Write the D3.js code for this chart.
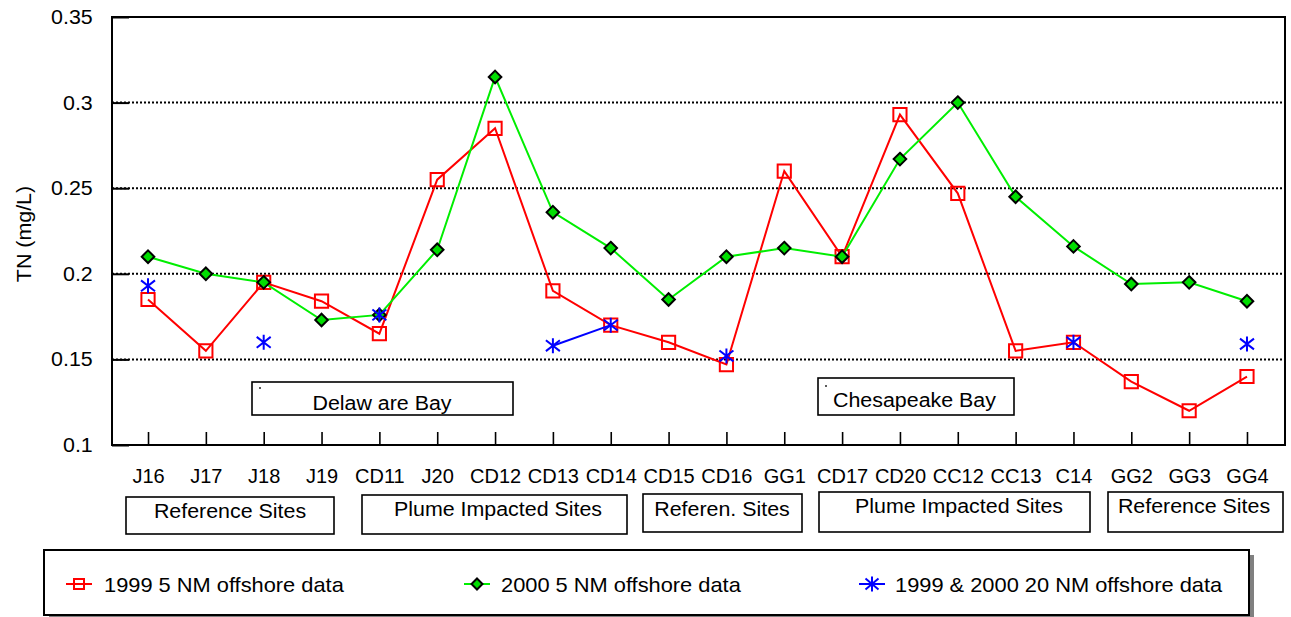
<!DOCTYPE html>
<html>
<head>
<meta charset="utf-8">
<script src="https://cdn.jsdelivr.net/npm/d3@7/dist/d3.min.js"></script>
<style>
  html, body { margin: 0; padding: 0; background: #fff; }
  svg { display: block; font-family: "Liberation Sans", Arial, sans-serif; }
</style>
</head>
<body>
<svg id="chart" width="1291" height="617"></svg>
<script>
// Sampling stations along the transect
const stations = ["J16","J17","J18","J19","CD11","J20","CD12","CD13","CD14","CD15",
                  "CD16","GG1","CD17","CD20","CC12","CC13","C14","GG2","GG3","GG4"];

// Total nitrogen (mg/L)
const tn1999near = [0.185,0.155,0.195,0.184,0.165,0.255,0.285,0.190,0.170,0.160,
                    0.147,0.260,0.210,0.293,0.247,0.155,0.160,0.137,0.120,0.140];
const tn2000near = [0.210,0.200,0.195,0.173,0.176,0.214,0.315,0.236,0.215,0.185,
                    0.210,0.215,0.210,0.267,0.300,0.245,0.216,0.194,0.195,0.184];
const tnFar      = [0.193,null,0.160,null,0.176,null,null,0.158,0.170,null,
                    0.152,null,null,null,null,null,0.160,null,null,0.159];

const yTicks = [0.1, 0.15, 0.2, 0.25, 0.3, 0.35];
const yGrid  = [0.15, 0.2, 0.25, 0.3];

const seriesNames = ["1999 5 NM offshore data", "2000 5 NM offshore data", "1999 & 2000 20 NM offshore data"];
const groupNames  = ["Reference Sites", "Plume Impacted Sites", "Referen. Sites", "Plume Impacted Sites", "Reference Sites"];
const bayNames    = ["Delaw are Bay", "Chesapeake Bay"];

// ---- layout ----
const plot = { x0: 112, x1: 1285, y0: 17, y1: 445 };
const groupBoxes = [
  { x: 126, y: 497, w: 208, h: 37, tx: 230, ty: 518 },
  { x: 362, y: 495, w: 265, h: 39, tx: 498, ty: 516 },
  { x: 643, y: 494, w: 159, h: 38, tx: 722, ty: 516 },
  { x: 819, y: 492, w: 271, h: 40, tx: 959, ty: 513 },
  { x: 1108, y: 492, w: 175, h: 40, tx: 1194, ty: 513 }
];
const bayBoxes = [
  { x: 252, y: 382, w: 261, h: 33, tx: 382, ty: 410, anchor: "middle", dx: 260, dy: 388 },
  { x: 818, y: 378, w: 196, h: 37, tx: 833, ty: 407, anchor: "start", dx: 826, dy: 386 }
];
const legendBox = { x: 44, y: 550, w: 1205, h: 65 };
const legendItems = [
  { cx: 79, tx: 104 },
  { cx: 477, tx: 501 },
  { cx: 872, tx: 895 }
];
const SX = 1.07; // horizontal text stretch

const RED = "#ff0000", GREEN = "#00ee00", GFILL = "#00dd00", BLUE = "#0000ff";

const svg = d3.select("#chart");

const x = d3.scalePoint().domain(stations).range([111, 1284]).padding(0.64);
const y = d3.scaleLinear().domain([0.1, 0.35]).range([plot.y1, plot.y0]);

// dotted gridlines
svg.append("g").selectAll("line").data(yGrid).join("line")
  .attr("x1", plot.x0).attr("x2", plot.x1)
  .attr("y1", d => y(d)).attr("y2", d => y(d))
  .attr("stroke", "#000").attr("stroke-width", 2)
  .attr("stroke-dasharray", "2,2");

// y axis
const yAxis = svg.append("g").attr("transform", `translate(${plot.x0},0)`)
  .call(d3.axisLeft(y).tickValues(yTicks).tickFormat(d => String(d))
        .tickSizeInner(-17).tickSizeOuter(0).tickPadding(18));
yAxis.select(".domain").remove();
yAxis.selectAll(".tick line").attr("stroke", "#000").attr("stroke-width", 2);
yAxis.selectAll(".tick text").attr("font-size", 20).attr("fill", "#000")
  .attr("font-family", "Liberation Sans, Arial, sans-serif")
  .attr("transform", `scale(${SX},1)`);

// x axis
const xAxis = svg.append("g").attr("transform", `translate(0,${plot.y1})`)
  .call(d3.axisBottom(x).tickSizeInner(-13).tickSizeOuter(0).tickPadding(24));
xAxis.select(".domain").remove();
xAxis.selectAll(".tick line").attr("stroke", "#000").attr("stroke-width", 1.6);
xAxis.selectAll(".tick text").attr("font-size", 20).attr("fill", "#000")
  .attr("font-family", "Liberation Sans, Arial, sans-serif");

// plot frame
svg.append("rect")
  .attr("x", plot.x0).attr("y", plot.y0)
  .attr("width", plot.x1 - plot.x0).attr("height", plot.y1 - plot.y0)
  .attr("fill", "none").attr("stroke", "#000").attr("stroke-width", 2);

// y title
svg.append("text")
  .attr("transform", `translate(31,234) rotate(-90) scale(${SX},1)`)
  .attr("text-anchor", "middle").attr("font-size", 20)
  .text("TN (mg/L)");

// bay annotation boxes
bayBoxes.forEach((b, i) => {
  svg.append("rect").attr("x", b.x).attr("y", b.y).attr("width", b.w).attr("height", b.h)
    .attr("fill", "#fff").attr("stroke", "#000").attr("stroke-width", 1.6);
  svg.append("rect").attr("x", b.dx - 0.8).attr("y", b.dy - 0.8).attr("width", 1.6).attr("height", 1.6).attr("fill", "#000");
  svg.append("text")
    .attr("transform", `translate(${b.tx},${b.ty}) scale(${SX},1)`)
    .attr("text-anchor", b.anchor).attr("font-size", 20)
    .text(bayNames[i]);
});

// marker shapes
const squarePath = s => `M${-s},${-s}H${s}V${s}H${-s}Z`;
const diamondPath = s => `M0,${-s}L${s},0L0,${s}L${-s},0Z`;
const starPath = (w, h) => `M0,${-h}V${h}M${-w},${-h * 0.72}L${w},${h * 0.72}M${-w},${h * 0.72}L${w},${-h * 0.72}`;

const pts = vals => stations.map((s, i) => ({ s, v: vals[i] }));
const line = d3.line().defined(d => d.v != null).x(d => x(d.s)).y(d => y(d.v));

// 1999 5 NM
const gRed = svg.append("g");
gRed.append("path").datum(pts(tn1999near)).attr("d", line)
  .attr("fill", "none").attr("stroke", RED).attr("stroke-width", 2);
gRed.selectAll("path.m").data(pts(tn1999near)).join("path").attr("class", "m")
  .attr("transform", d => `translate(${x(d.s)},${y(d.v)})`)
  .attr("d", squarePath(6.6)).attr("fill", "none").attr("stroke", RED).attr("stroke-width", 2);

// 2000 5 NM
const gGreen = svg.append("g");
gGreen.append("path").datum(pts(tn2000near)).attr("d", line)
  .attr("fill", "none").attr("stroke", GREEN).attr("stroke-width", 2);
gGreen.selectAll("path.m").data(pts(tn2000near)).join("path").attr("class", "m")
  .attr("transform", d => `translate(${x(d.s)},${y(d.v)})`)
  .attr("d", diamondPath(6.3)).attr("fill", GFILL).attr("stroke", "#000").attr("stroke-width", 2);

// 20 NM
const gBlue = svg.append("g");
gBlue.append("path").datum(pts(tnFar)).attr("d", line)
  .attr("fill", "none").attr("stroke", BLUE).attr("stroke-width", 2);
gBlue.selectAll("path.m").data(pts(tnFar).filter(d => d.v != null)).join("path").attr("class", "m")
  .attr("transform", d => `translate(${x(d.s)},${y(d.v)})`)
  .attr("d", starPath(7, 7.5)).attr("fill", "none").attr("stroke", BLUE).attr("stroke-width", 2);

// site group boxes
groupBoxes.forEach((b, i) => {
  svg.append("rect").attr("x", b.x).attr("y", b.y).attr("width", b.w).attr("height", b.h)
    .attr("fill", "#fff").attr("stroke", "#000").attr("stroke-width", 1.6);
  svg.append("text")
    .attr("transform", `translate(${b.tx},${b.ty}) scale(${SX},1)`)
    .attr("text-anchor", "middle").attr("font-size", 20)
    .text(groupNames[i]);
});

// legend
svg.append("rect").attr("x", legendBox.x + 5).attr("y", legendBox.y + 5)
  .attr("width", legendBox.w).attr("height", legendBox.h).attr("fill", "#808080");
svg.append("rect").attr("x", legendBox.x).attr("y", legendBox.y)
  .attr("width", legendBox.w).attr("height", legendBox.h)
  .attr("fill", "#fff").attr("stroke", "#000").attr("stroke-width", 2);

const ly = legendBox.y + 34;
const legendStyles = [
  { color: RED, d: squarePath(5), fill: "none", stroke: RED },
  { color: GREEN, d: diamondPath(5.5), fill: GFILL, stroke: "#000" },
  { color: BLUE, d: starPath(6.5, 7.5), fill: "none", stroke: BLUE }
];
legendItems.forEach((it, i) => {
  const st = legendStyles[i];
  svg.append("line").attr("x1", it.cx - 13).attr("x2", it.cx + 13)
    .attr("y1", ly).attr("y2", ly).attr("stroke", st.color).attr("stroke-width", 2);
  svg.append("path").attr("transform", `translate(${it.cx},${ly})`)
    .attr("d", st.d).attr("fill", st.fill).attr("stroke", st.stroke).attr("stroke-width", 2);
  svg.append("text")
    .attr("transform", `translate(${it.tx},${ly + 8}) scale(1.04,1)`)
    .attr("font-size", 21)
    .text(seriesNames[i]);
});
</script>
</body>
</html>
